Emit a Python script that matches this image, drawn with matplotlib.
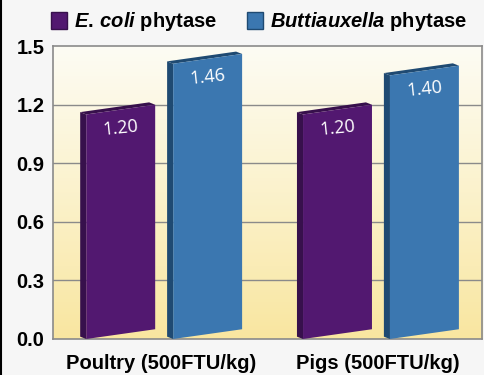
import matplotlib
matplotlib.use("Agg")
import matplotlib.pyplot as plt
import numpy as np
from matplotlib.patches import Polygon, Patch
from matplotlib.colors import LinearSegmentedColormap

# data
categories = ["Poultry (500FTU/kg)", "Pigs (500FTU/kg)"]
ecoli = [1.20, 1.20]
buttiaux = [1.46, 1.40]
series_labels = [r"$\mathit{E.\,coli}$ phytase", r"$\mathit{Buttiauxella}$ phytase"]
yticks = [0.0, 0.3, 0.6, 0.9, 1.2, 1.5]

plt.rcParams['font.family'] = ['Liberation Sans', 'DejaVu Sans']
plt.rcParams['mathtext.fontset'] = 'custom'
plt.rcParams['mathtext.it'] = 'Liberation Sans:italic:bold'
plt.rcParams['mathtext.rm'] = 'Liberation Sans:bold'

purple = "#521870"
purple_dark = "#37104c"
blue = "#3b77b0"
blue_dark = "#1f4a72"

fig = plt.figure(figsize=(4.85, 3.75), dpi=100)
fig.patch.set_facecolor("#f6f6f6")
ax = fig.add_axes([0.109, 0.096, 0.885, 0.781])

# gradient background
grad = np.linspace(0, 1, 256).reshape(-1, 1)
cmap = LinearSegmentedColormap.from_list("bg", ["#f9e6a0", "#fbf2cc", "#fdfcf4"])
ax.imshow(grad, extent=[0, 1, 0, 1], transform=ax.transAxes, aspect="auto",
          cmap=cmap, origin="lower", zorder=0)

ax.set_xlim(-0.5, 1.48)
ax.set_ylim(0, 1.5)

for y in yticks[1:-1]:
    ax.axhline(y, color="#8a8a8a", lw=1.0, zorder=1)

w = 0.318     # front face width
side = 0.028  # depth offset in x
dy = 0.012    # depth offset in y
skew = 0.05   # slant of bar top/bottom


def bar3d(xl, v, face, dark):
    xr = xl + w
    front = [(xl, 0), (xr, skew), (xr, v), (xl, v - skew)]
    back = [(x - side, y + dy) for x, y in front]
    # side + top faces
    ax.add_patch(Polygon([back[0], front[0], front[3], back[3]], closed=True,
                         fc=dark, ec="none", zorder=3))
    ax.add_patch(Polygon([back[3], front[3], front[2], back[2]], closed=True,
                         fc=dark, ec="none", zorder=3))
    ax.add_patch(Polygon(front, closed=True, fc=face, ec="none", zorder=4))
    ax.text(xl + w / 2, v - 0.12, f"{v:.2f}", color="white", fontsize=13,
            family=["Open Sans", "DejaVu Sans"], ha="center", va="center",
            rotation=6, zorder=5)


for i in range(len(categories)):
    bar3d(i - 0.346, ecoli[i], purple, purple_dark)
    bar3d(i + 0.055, buttiaux[i], blue, blue_dark)

ax.set_yticks(yticks)
ax.set_yticklabels([f"{t:.1f}" for t in yticks], fontsize=14.5, fontweight="bold")
ax.set_xticks(range(len(categories)))
ax.set_xticklabels(categories, fontsize=14.5, fontweight="bold")
ax.tick_params(length=0)
ax.tick_params(axis="y", pad=6)
ax.tick_params(axis="x", pad=11)
for s in ax.spines.values():
    s.set_color("#8a8a8a")
    s.set_linewidth(1.2)

handles = [Patch(fc=purple, ec=purple_dark), Patch(fc=blue, ec=blue_dark)]
fig.legend(handles, series_labels, loc="center", bbox_to_anchor=(0.534, 0.942),
           ncol=2, frameon=False, prop={"size": 14.5, "weight": "bold"},
           handlelength=0.8, handleheight=0.9, handletextpad=0.35,
           columnspacing=1.5)

fig.add_artist(plt.Line2D([0.002, 0.002], [0, 1], transform=fig.transFigure,
                          color="black", lw=1.5))

fig.savefig("out.png", dpi=100, facecolor=fig.get_facecolor())
